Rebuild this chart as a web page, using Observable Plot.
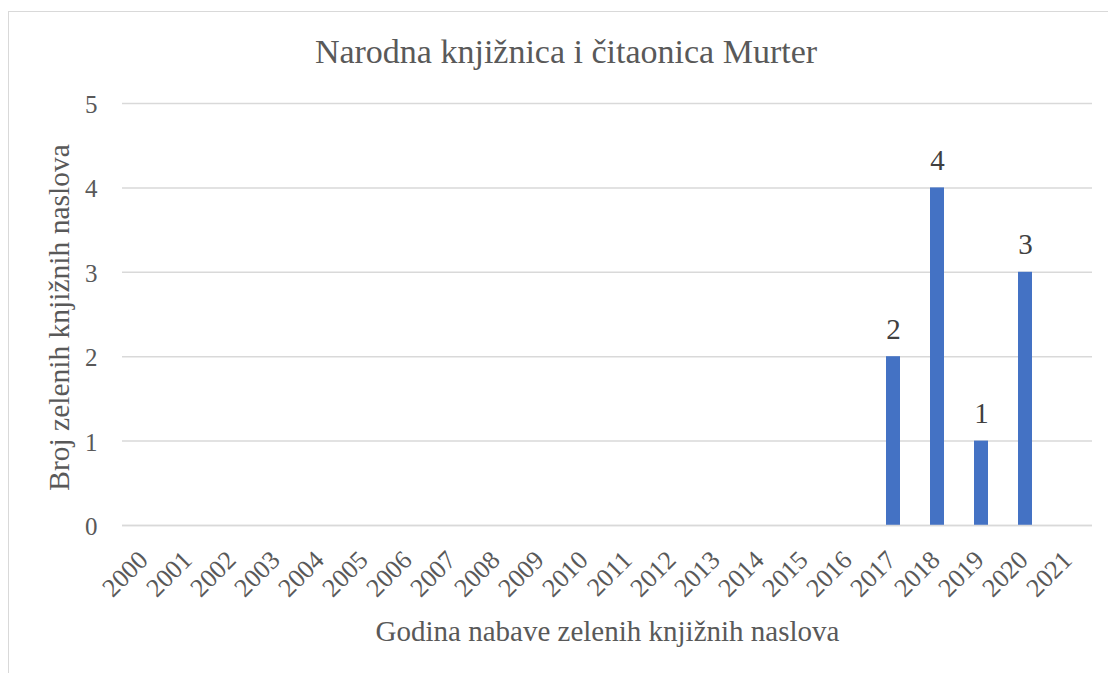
<!DOCTYPE html>
<html>
<head>
<meta charset="utf-8">
<script src="https://cdn.jsdelivr.net/npm/d3@7"></script>
<script src="https://cdn.jsdelivr.net/npm/@observablehq/plot@0.6"></script>
<style>
  html, body { margin: 0; padding: 0; background: #fff; }
  #wrap { position: relative; width: 1108px; height: 673px; overflow: hidden; font-family: "Liberation Serif", "Times New Roman", serif; }
  #frame { position: absolute; left: 8px; top: 11px; width: 1200px; height: 800px; border: 1.5px solid #d9d9d9; box-sizing: border-box; }
  #title { position: absolute; left: 8px; width: 1116px; top: 0; height: 80px; line-height: 103px; text-align: center; font-size: 34px; color: #595959; }
  #chart { position: absolute; left: 0; top: 80px; }
  #chart svg text { font-family: "Liberation Serif", "Times New Roman", serif; }
</style>
</head>
<body>
<div id="wrap">
  <div id="frame"></div>
  <div id="title">Narodna knjižnica i čitaonica Murter</div>
  <div id="chart"></div>
</div>
<script>
const years = ["2000","2001","2002","2003","2004","2005","2006","2007","2008","2009","2010","2011","2012","2013","2014","2015","2016","2017","2018","2019","2020","2021"];
const counts = [0,0,0,0,0,0,0,0,0,0,0,0,0,0,0,0,0,2,4,1,3,0];
const yTicks = [0,1,2,3,4,5];
const yTitle = "Broj zelenih knjižnih naslova";
const xTitle = "Godina nabave zelenih knjižnih naslova";

const data = years.map((y, i) => ({year: y, count: counts[i]}));
const labelled = data.filter(d => d.count > 0);
const serif = "'Liberation Serif', 'Times New Roman', serif";

const chart = Plot.plot({
  width: 1108,
  height: 593,
  marginLeft: 122,
  marginRight: 16,
  marginTop: 23,
  marginBottom: 148,
  style: { fontFamily: serif, background: "transparent", overflow: "visible" },
  x: { domain: years, paddingInner: 0.69, paddingOuter: 0.345, label: null, axis: null },
  y: { domain: [0, 5], label: null },
  marks: [
    Plot.gridY(yTicks, { stroke: "#d9d9d9", strokeOpacity: 1, strokeWidth: 1.5 }),
    Plot.barY(data, { x: "year", y: "count", fill: "#4472c4" }),
    Plot.ruleY([0], { stroke: "#d9d9d9", strokeWidth: 1.5 }),
    Plot.axisY(yTicks, { tickSize: 0, tickPadding: 25, dy: 1.5, fontSize: 25, fontFamily: serif, fill: "#595959", label: null, tickFormat: d => String(d) }),
    Plot.text(years, { x: d => d, frameAnchor: "bottom", rotate: -45, textAnchor: "end", dx: 4, dy: 36, fontSize: 26, fontFamily: serif, fill: "#595959" }),
    Plot.text(labelled, { x: "year", y: "count", text: d => String(d.count), lineAnchor: "bottom", dy: -18, fontSize: 29, fontFamily: serif, fill: "#404040" }),
    Plot.text([yTitle], { frameAnchor: "left", textAnchor: "middle", rotate: -90, dx: -63, dy: 3, fontSize: 29.5, fontFamily: serif, fill: "#595959" }),
    Plot.text([xTitle], { frameAnchor: "bottom", textAnchor: "middle", dy: 115, fontSize: 29, fontFamily: serif, fill: "#595959" })
  ]
});
document.getElementById("chart").appendChild(chart);
// force a synchronous layout so the installed serif font is used for all SVG texts
chart.querySelectorAll("text").forEach(t => t.getBoundingClientRect());
</script>
</body>
</html>
